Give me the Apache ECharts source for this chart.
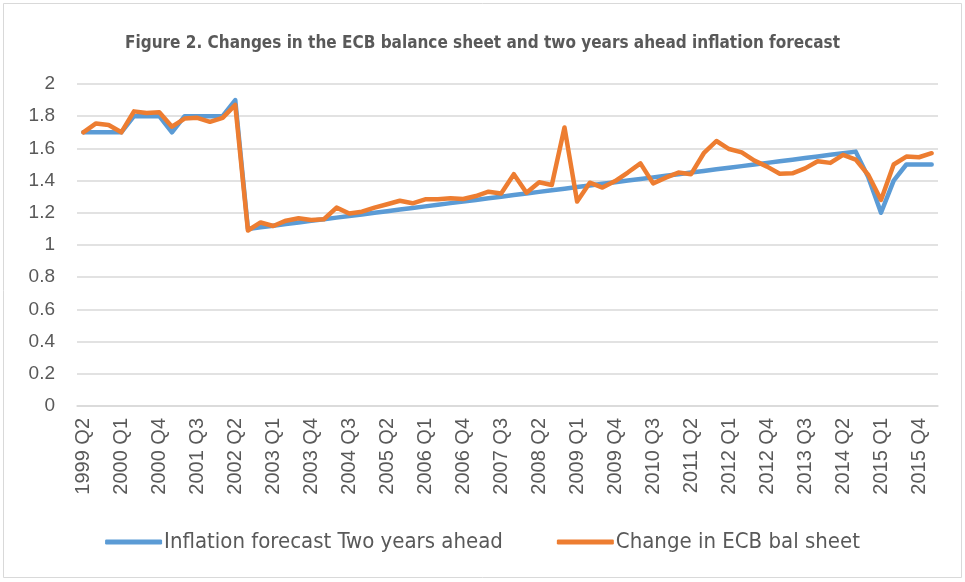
<!DOCTYPE html>
<html>
<head>
<meta charset="utf-8">
<script src="https://cdn.jsdelivr.net/npm/echarts@6/dist/echarts.min.js"></script>
<style>
  html, body { margin: 0; padding: 0; background: #fff; }
  #chart { width: 965px; height: 582px; }
</style>
</head>
<body>
<div id="chart"></div>
<script>
// quarters 1999 Q2 .. 2016 Q1
const quarters = [
  '1999 Q2', '1999 Q3', '1999 Q4',
  '2000 Q1', '2000 Q2', '2000 Q3', '2000 Q4',
  '2001 Q1', '2001 Q2', '2001 Q3', '2001 Q4',
  '2002 Q1', '2002 Q2', '2002 Q3', '2002 Q4',
  '2003 Q1', '2003 Q2', '2003 Q3', '2003 Q4',
  '2004 Q1', '2004 Q2', '2004 Q3', '2004 Q4',
  '2005 Q1', '2005 Q2', '2005 Q3', '2005 Q4',
  '2006 Q1', '2006 Q2', '2006 Q3', '2006 Q4',
  '2007 Q1', '2007 Q2', '2007 Q3', '2007 Q4',
  '2008 Q1', '2008 Q2', '2008 Q3', '2008 Q4',
  '2009 Q1', '2009 Q2', '2009 Q3', '2009 Q4',
  '2010 Q1', '2010 Q2', '2010 Q3', '2010 Q4',
  '2011 Q1', '2011 Q2', '2011 Q3', '2011 Q4',
  '2012 Q1', '2012 Q2', '2012 Q3', '2012 Q4',
  '2013 Q1', '2013 Q2', '2013 Q3', '2013 Q4',
  '2014 Q1', '2014 Q2', '2014 Q3', '2014 Q4',
  '2015 Q1', '2015 Q2', '2015 Q3', '2015 Q4',
  '2016 Q1'
]

// Inflation forecast Two years ahead
const inflationForecast = [
  1.70, 1.70, 1.70,
  1.70, 1.80, 1.80, 1.80,
  1.70, 1.80, 1.80, 1.80,
  1.80, 1.90, 1.10, 1.11,
  1.12, 1.13, 1.14, 1.15,
  1.16, 1.17, 1.18, 1.19,
  1.20, 1.21, 1.22, 1.23,
  1.24, 1.25, 1.26, 1.27,
  1.28, 1.29, 1.30, 1.31,
  1.32, 1.33, 1.34, 1.35,
  1.36, 1.37, 1.38, 1.39,
  1.40, 1.41, 1.42, 1.43,
  1.44, 1.45, 1.46, 1.47,
  1.48, 1.49, 1.50, 1.51,
  1.52, 1.53, 1.54, 1.55,
  1.56, 1.57, 1.58, 1.42,
  1.20, 1.40, 1.50, 1.50,
  1.50
]

// Change in ECB bal sheet
const ecbBalSheet = [
  1.70, 1.755, 1.745,
  1.70, 1.83, 1.82, 1.825,
  1.735, 1.785, 1.79, 1.765,
  1.79, 1.87, 1.09, 1.14,
  1.118, 1.151, 1.166, 1.155,
  1.16, 1.232, 1.196, 1.207,
  1.232, 1.253, 1.275, 1.259,
  1.284, 1.284, 1.29, 1.286,
  1.304, 1.331, 1.32, 1.44,
  1.325, 1.39, 1.373, 1.73,
  1.27, 1.387, 1.357, 1.397,
  1.45, 1.507, 1.383, 1.418,
  1.45, 1.44, 1.57, 1.646,
  1.596, 1.575, 1.524, 1.487,
  1.443, 1.445, 1.476, 1.52,
  1.51, 1.56, 1.53, 1.435,
  1.28, 1.50, 1.549, 1.545,
  1.57
]

const yTicks = { min: 0, max: 2, interval: 0.2 }

const axisFont = "'Liberation Sans', Arial, sans-serif"
const narrowFont = "'Liberation Sans Narrow', 'DejaVu Sans Condensed', 'Noto Sans', sans-serif"

const myChart = echarts.init(document.getElementById('chart'))
const option = {
  animation: false,
  backgroundColor: '#fff',
  color: ['#5b9bd5', '#ed7d31'],
  title: {
    text: 'Figure 2. Changes in the ECB balance sheet and two years ahead inflation forecast',
    left: 'center',
    top: 30,
    textStyle: {
      fontFamily: narrowFont,
      fontSize: 17,
      fontWeight: 'bold',
      color: '#595959'
    }
  },
  graphic: [
    {
      type: 'rect',
      shape: { x: 3.5, y: 3.5, width: 958, height: 574 },
      style: { fill: 'none', stroke: '#d9d9d9', lineWidth: 1 },
      silent: true
    }
  ],
  legend: {
    bottom: 24,
    left: 'center',
    icon: 'roundRect',
    itemWidth: 57,
    itemHeight: 5,
    itemGap: 54,
    textStyle: {
      fontFamily: narrowFont,
      fontSize: 22,
      color: '#595959',
      padding: [0, 0, 0, -3]
    },
    data: ['Inflation forecast Two years ahead', 'Change in ECB bal sheet']
  },
  grid: {
    left: 77,
    right: 27,
    top: 84,
    bottom: 176
  },
  xAxis: {
    type: 'category',
    data: quarters,
    boundaryGap: true,
    axisLine: { lineStyle: { color: '#d9d9d9', width: 1.5 } },
    axisTick: { show: false },
    axisLabel: {
      interval: 2,
      rotate: 90,
      margin: 12,
      fontFamily: axisFont,
      fontSize: 20,
      color: '#595959'
    }
  },
  yAxis: {
    type: 'value',
    min: yTicks.min,
    max: yTicks.max,
    interval: yTicks.interval,
    axisLine: { show: false },
    axisTick: { show: false },
    splitLine: { lineStyle: { color: '#d9d9d9', width: 1.5 } },
    axisLabel: {
      margin: 22,
      fontFamily: axisFont,
      fontSize: 19,
      color: '#595959',
      formatter: v => String(Math.round(v * 10) / 10)
    }
  },
  series: [
    {
      name: 'Inflation forecast Two years ahead',
      type: 'line',
      data: inflationForecast,
      symbol: 'none',
      lineStyle: { width: 4.5, cap: 'round', join: 'round' }
    },
    {
      name: 'Change in ECB bal sheet',
      type: 'line',
      data: ecbBalSheet,
      symbol: 'none',
      lineStyle: { width: 4.5, cap: 'round', join: 'round' }
    }
  ]
}
myChart.setOption(option)
</script>
</body>
</html>
